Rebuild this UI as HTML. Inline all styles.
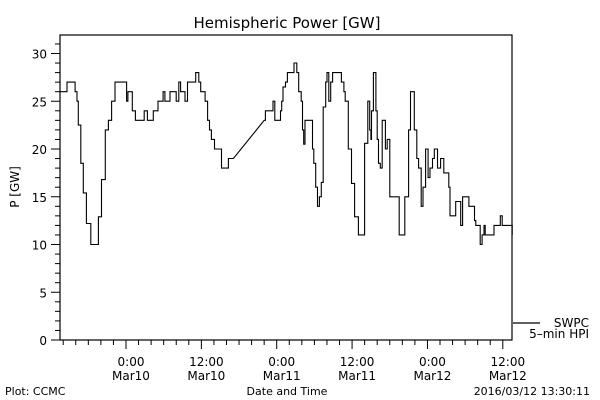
<!DOCTYPE html>
<html><head><meta charset="utf-8"><style>
body{margin:0;background:#fff}
svg{display:block;font-family:"DejaVu Sans","Liberation Sans",sans-serif}
</style></head><body>
<svg width="600" height="400" viewBox="0 0 600 400">
<rect x="0" y="0" width="600" height="400" fill="#fff"/>
<text x="287" y="28" font-size="15" text-anchor="middle">Hemispheric Power [GW]</text>
<text transform="translate(19,187) rotate(-90)" font-size="12" text-anchor="middle">P [GW]</text>
<rect x="60" y="35" width="452" height="305" fill="none" stroke="#000" stroke-width="1.2"/>
<g id="yaxis"></g>
<g id="xaxis"></g>
<path id="series" fill="none" stroke="#000" stroke-width="1.1"/>
<line x1="513" y1="323" x2="540" y2="323" stroke="#000" stroke-width="1.2"/>
<text x="589" y="327" font-size="12" text-anchor="end">SWPC</text>
<text x="589" y="338" font-size="12" text-anchor="end">5–min HPI</text>
<text x="5" y="395" font-size="11">Plot: CCMC</text>
<text x="287" y="395" font-size="11" text-anchor="middle">Date and Time</text>
<text x="590" y="395" font-size="11" text-anchor="end">2016/03/12 13:30:11</text>
</svg>
<script>
const hours=[-10.5,-9.6,-9.4,-8.6,-8.1,-7.8,-7.6,-7.2,-6.8,-6.3,-5.6,-4.9,-4.4,-3.9,-3.3,-2.8,-2.3,-1.75,-0.3,0.1,0.3,1.0,1.5,2.75,2.9,3.4,4.35,5.1,5.9,6.2,7.0,7.6,8.0,8.4,8.7,9.4,9.8,10.9,11.1,11.6,11.9,12.6,13.0,13.3,13.6,14.1,14.6,15.2,16.0,16.3,17.1,22.0,22.2,23.0,23.4,23.7,24.2,24.6,24.8,25.0,25.4,25.7,26.1,26.75,27.2,27.5,27.9,28.1,28.3,28.5,29.4,29.7,29.9,30.2,30.5,30.8,31.1,31.4,31.8,32.0,32.3,32.6,32.9,33.8,34.3,34.7,34.9,35.4,35.9,36.4,37.0,37.7,38.0,38.5,38.8,39.0,39.1,39.4,39.8,40.0,40.2,40.5,40.8,41.3,41.6,42.0,43.5,43.9,44.4,45.0,45.3,45.6,45.9,46.3,46.6,47.0,47.3,47.7,48.1,48.4,48.8,49.1,49.6,50.1,50.6,51.4,51.6,52.0,52.5,53.3,53.6,54.0,54.6,55.5,55.7,56.2,56.4,56.7,57.0,57.2,58.6,59.6,59.9,61.5];
const power=[26,26,27,27,26,25,22.5,18.5,15.4,12.2,10,10,12.9,16.8,22,23,25,27,27,25,26,24,23,23,24,23,24,25,26,25,26,26,25,27,26,25,27,27,28,27,26,25,23,22,21,20,20,18,18,19,19,23,24,24,25,23,23,24,25,26.5,27,28,28,29,28,26,25,22,20.5,23,23,20,18.5,16,14,15,16.5,24.4,27,28,25,27,28,28,27,26,25,20,16.4,12.9,11,11,20.6,25,22,21,24,28,24,21,18.5,18,23,20,21,15,11,11,15,22,26,26,22,19,18,14,16,20,17,18,19,20,18,19,17.5,16,13,13,14.5,12,15,15,14,12.5,12,12,10,11,12,11,12,13,12,11,10,10];
const yTicks=[0,5,10,15,20,25,30];
const xTickHours=[0,12,24,36,48,60];
const xTickTime=["0:00","12:00","0:00","12:00","0:00","12:00"];
const xTickDate=["Mar10","Mar10","Mar11","Mar11","Mar12","Mar12"];
const NS="http://www.w3.org/2000/svg";
const X0=60,X1=512,Y0=340;
const xs=h=>126+h*6.28;
const ys=v=>Y0-v*9.55;
function mk(tag,attrs,parent){const e=document.createElementNS(NS,tag);for(const k in attrs)e.setAttribute(k,attrs[k]);parent.appendChild(e);return e;}
const ya=document.getElementById('yaxis');
for(let v=0;v<=31;v++){
  const major=v%5===0;
  const t=mk('line',{x1:major?51:55,x2:60,y1:ys(v),y2:ys(v),stroke:'#000','stroke-width':1},ya);
  
  
}
yTicks.forEach(v=>{
  const t=mk('text',{x:47,y:ys(v)+5,'font-size':12,'text-anchor':'end'},ya);
  t.textContent=v;
  
  
});
const xa=document.getElementById('xaxis');
for(let h=-10;h<=61;h+=2){
  const x=xs(h);if(x<X0||x>X1)continue;
  const major=h%12===0;
  const t=mk('line',{x1:x,x2:x,y1:340,y2:major?349:345,stroke:'#000','stroke-width':1},xa);
  
  
}
xTickHours.forEach((h,i)=>{
  const a=mk('text',{x:xs(h)+5,y:366,'font-size':12,'text-anchor':'middle'},xa);
  a.textContent=xTickTime[i];
  
  
  const b=mk('text',{x:xs(h)+5,y:380,'font-size':12,'text-anchor':'middle'},xa);
  b.textContent=xTickDate[i];
  
  
});
let d='';
hours.forEach((h,i)=>{
  const x=xs(h).toFixed(1),y=ys(power[i]).toFixed(1);
  if(i===0){d+='M'+x+' '+y;return;}
  const gap=hours[i]-hours[i-1]>3;
  if(gap){d+='L'+x+' '+y;}
  else{d+='H'+x+'V'+y;}
});
document.getElementById('series').setAttribute('d',d);
</script>
</body></html>
